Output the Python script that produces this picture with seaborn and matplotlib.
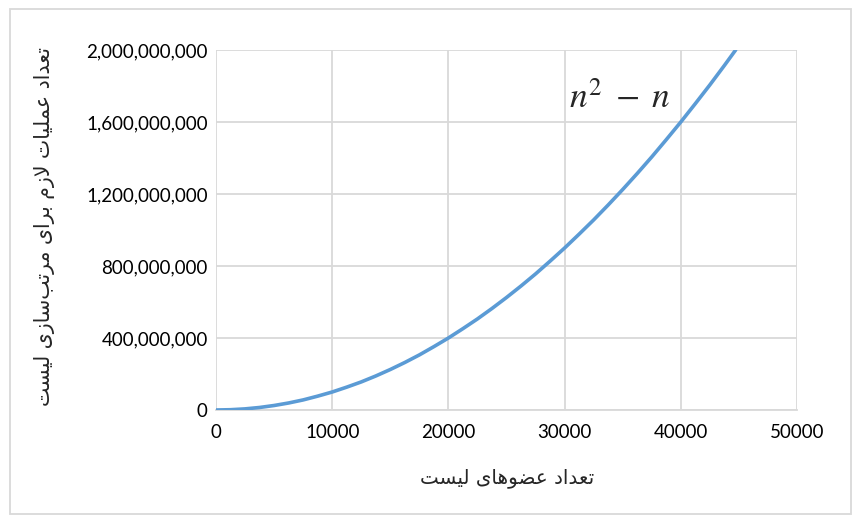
import matplotlib
matplotlib.use("Agg")
import matplotlib.pyplot as plt
import seaborn as sns
import pandas as pd
from matplotlib.patches import Rectangle
from matplotlib.ticker import FuncFormatter

# ---- data ----
list_size = [0, 1250, 2500, 3750, 5000, 6250, 7500, 8750, 10000, 11250,
             12500, 13750, 15000, 16250, 17500, 18750, 20000, 21250, 22500,
             23750, 25000, 26250, 27500, 28750, 30000, 31250, 32500, 33750,
             35000, 36250, 37500, 38750, 40000, 41250, 42500, 43750, 44720]
operations = [0, 1.6e6, 6.2e6, 14e6, 25e6, 39e6, 56e6, 77e6, 100e6, 127e6,
              156e6, 189e6, 225e6, 264e6, 306e6, 352e6, 400e6, 452e6, 506e6,
              564e6, 625e6, 689e6, 756e6, 827e6, 900e6, 977e6, 1056e6, 1139e6,
              1225e6, 1314e6, 1406e6, 1502e6, 1600e6, 1702e6, 1806e6, 1914e6, 2000e6]
x_ticks = [0, 10000, 20000, 30000, 40000, 50000]
y_ticks = [0, 400e6, 800e6, 1200e6, 1600e6, 2000e6]
x_label = "تعداد عضوهای لیست"
y_label = "تعداد عملیات لازم برای مرتب‌سازی لیست"
curve_label = r"$n^2\;-\;n$"

# ---- minimal Arabic/Persian shaping ----
FORMS = {
    "\u0627": ("\uFE8D", "\uFE8E", None, None),
    "\u0628": ("\uFE8F", "\uFE90", "\uFE91", "\uFE92"),
    "\u062A": ("\uFE95", "\uFE96", "\uFE97", "\uFE98"),
    "\u062F": ("\uFEA9", "\uFEAA", None, None),
    "\u0631": ("\uFEAD", "\uFEAE", None, None),
    "\u0632": ("\uFEAF", "\uFEB0", None, None),
    "\u0633": ("\uFEB1", "\uFEB2", "\uFEB3", "\uFEB4"),
    "\u0636": ("\uFEBD", "\uFEBE", "\uFEBF", "\uFEC0"),
    "\u0639": ("\uFEC9", "\uFECA", "\uFECB", "\uFECC"),
    "\u0644": ("\uFEDD", "\uFEDE", "\uFEDF", "\uFEE0"),
    "\u0645": ("\uFEE1", "\uFEE2", "\uFEE3", "\uFEE4"),
    "\u0647": ("\uFEE9", "\uFEEA", "\uFEEB", "\uFEEC"),
    "\u0648": ("\uFEED", "\uFEEE", None, None),
    "\u06CC": ("\uFBFC", "\uFBFD", "\uFBFE", "\uFBFF"),
    "LA": ("\uFEFB", "\uFEFC", None, None),
}


def shape(text):
    chars = []
    i = 0
    while i < len(text):
        c = text[i]
        if c == "\u0644" and i + 1 < len(text) and text[i + 1] == "\u0627":
            chars.append("LA")
            i += 2
        else:
            chars.append(c)
            i += 1
    out = []
    for k, c in enumerate(chars):
        if c not in FORMS:
            if c != "\u200c":
                out.append(c)
            continue
        prev = chars[k - 1] if k > 0 else None
        nxt = chars[k + 1] if k + 1 < len(chars) else None
        jp = prev in FORMS and FORMS[prev][2] is not None
        jn = FORMS[c][2] is not None and nxt in FORMS
        iso, fin, ini, med = FORMS[c]
        if jp and jn:
            g = med
        elif jp:
            g = fin
        elif jn:
            g = ini
        else:
            g = iso
        out.append(g)
    return "".join(out)[::-1]


sns.set_theme(style="white")
plt.rcParams["font.family"] = ["Lato", "DejaVu Sans"]
plt.rcParams["mathtext.fontset"] = "stix"

fig = plt.figure(figsize=(8.62, 5.25), dpi=100)
ax = fig.add_axes([216 / 862, 1 - 410 / 525, (797 - 216) / 862, (410 - 50) / 525])

df = pd.DataFrame({"n": list_size, "ops": operations})
sns.lineplot(data=df, x="n", y="ops", ax=ax, color="#5B9BD5", linewidth=2.6, zorder=3)

ax.set_xlim(0, 50000)
ax.set_ylim(0, 2e9)
ax.set_xticks(x_ticks)
ax.set_yticks(y_ticks)
ax.xaxis.set_major_formatter(FuncFormatter(lambda v, p: f"{int(v)}"))
ax.yaxis.set_major_formatter(FuncFormatter(lambda v, p: f"{int(v):,}"))
ax.grid(True, color="#D9D9D9", linewidth=1.3)
ax.set_axisbelow(True)
for s in ["top", "right", "left"]:
    ax.spines[s].set_visible(False)
ax.spines["bottom"].set_color("#D9D9D9")
ax.spines["bottom"].set_linewidth(1.3)
ax.tick_params(axis="both", length=0, labelsize=13.5, colors="#404040", labelcolor="black")
ax.tick_params(axis="x", pad=10)
ax.tick_params(axis="y", pad=6)
ax.set_xlabel("")
ax.set_ylabel("")

fig.text(507 / 862, 1 - 478 / 525, shape(x_label), ha="center", va="center",
         fontsize=14.3, family=["DejaVu Sans"])
fig.text(45 / 862, 1 - 226 / 525, shape(y_label), ha="center", va="center",
         rotation=90, fontsize=14.8, family=["DejaVu Sans"])

ax.text(30400, 1.74e9, curve_label, fontsize=25.5, ha="left", va="center")

fig.patches.append(Rectangle((10 / 862, 1 - 514 / 525), 841 / 862, 505 / 525,
                             transform=fig.transFigure, fill=False,
                             edgecolor="#D9D9D9", linewidth=1.3))

fig.savefig("out.png", dpi=100, facecolor="white")
